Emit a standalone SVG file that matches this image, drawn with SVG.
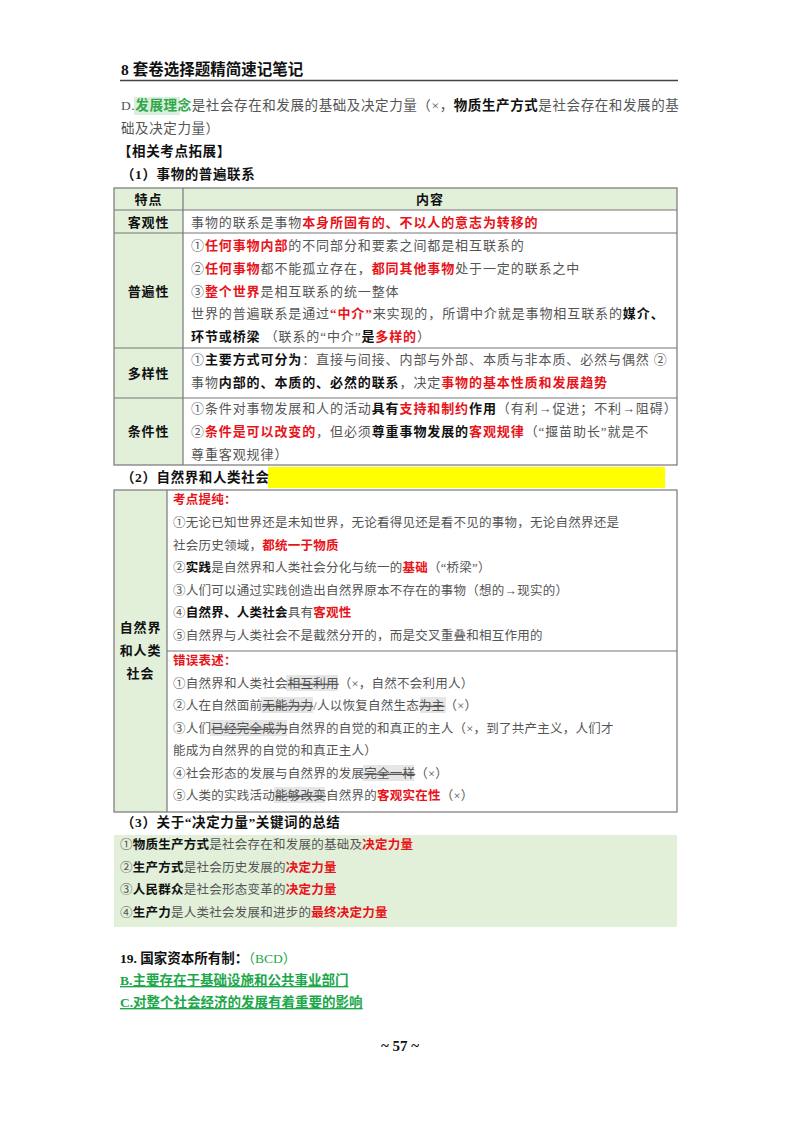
<svg xmlns="http://www.w3.org/2000/svg" width="800" height="1132" viewBox="0 0 800 1132">
<style>
text{font-family:"Liberation Serif","Noto Sans CJK SC",serif;fill:#555;}
.h{font-size:15px;font-weight:bold;fill:#111;}
.p{font-size:13.5px;letter-spacing:0.6px;}
.t1{font-size:13px;letter-spacing:0.9px;}
.t2{font-size:12.5px;letter-spacing:0.25px;}
.b{font-weight:bold;fill:#111;}
.r{font-weight:bold;fill:#e8141a;}
.s{text-decoration:line-through;}
.g{fill:#1aa84a;font-weight:bold;}
.grid{fill:none;stroke:#777;stroke-width:1.2;}
.hl{fill:#e6e6e6;}
</style>
<rect width="800" height="1132" fill="#fff"/>
<g id="header">
<text x="121" y="75" class="h" style="font-size:15.5px">8 套卷选择题精简速记笔记</text>
<line x1="120" y1="80.5" x2="678" y2="80.5" stroke="#444" stroke-width="1.5"/>
</g>
<g id="intro">
<rect x="134" y="97" width="46" height="18" fill="#d9efdd"/>
<text x="121" y="110" class="p">D.<tspan fill="#2fa84a" font-weight="bold">发展理念</tspan>是社会存在和发展的基础及决定力量（×，<tspan class="b">物质生产方式</tspan>是社会存在和发展的基</text>
<text x="121" y="133" class="p">础及决定力量）</text>
<text x="118" y="156" class="p b">【相关考点拓展】</text>
<text x="121" y="179" class="p b">（1）事物的普遍联系</text>
</g>
<g id="table1">
<rect x="114" y="188" width="69" height="277" fill="#e2efd9"/>
<rect x="183" y="188" width="494" height="22" fill="#e2efd9"/>
<rect x="114" y="188" width="563" height="277" class="grid"/>
<line x1="183" y1="188" x2="183" y2="465" class="grid"/>
<line x1="114" y1="210" x2="677" y2="210" class="grid"/>
<line x1="114" y1="233" x2="677" y2="233" class="grid"/>
<line x1="114" y1="348" x2="677" y2="348" class="grid"/>
<line x1="114" y1="398" x2="677" y2="398" class="grid"/>
<text x="148.5" y="204" class="t1 b" text-anchor="middle">特点</text>
<text x="430" y="204" class="t1 b" text-anchor="middle">内容</text>
<text x="148.5" y="227" class="t1 b" text-anchor="middle">客观性</text>
<text x="191" y="227" class="t1">事物的联系是事物<tspan class="r">本身所固有的、不以人的意志为转移的</tspan></text>
<text x="148.5" y="296" class="t1 b" text-anchor="middle">普遍性</text>
<text x="191" y="250" class="t1">①<tspan class="r">任何事物内部</tspan>的不同部分和要素之间都是相互联系的</text>
<text x="191" y="273" class="t1">②<tspan class="r">任何事物</tspan>都不能孤立存在，<tspan class="r">都同其他事物</tspan>处于一定的联系之中</text>
<text x="191" y="296" class="t1">③<tspan class="r">整个世界</tspan>是相互联系的统一整体</text>
<text x="191" y="318" class="t1">世界的普遍联系是通过<tspan class="r">“中介”</tspan>来实现的，所谓中介就是事物相互联系的<tspan class="b">媒介、</tspan></text>
<text x="191" y="341" class="t1"><tspan class="b">环节或桥梁</tspan> （联系的“中介”<tspan class="b">是</tspan><tspan class="r">多样的</tspan>）</text>
<text x="148.5" y="378" class="t1 b" text-anchor="middle">多样性</text>
<text x="191" y="364" class="t1">①<tspan class="b">主要方式可分为</tspan>：直接与间接、内部与外部、本质与非本质、必然与偶然 ②</text>
<text x="191" y="387" class="t1">事物<tspan class="b">内部的、本质的、必然的联系</tspan>，决定<tspan class="r">事物的基本性质和发展趋势</tspan></text>
<text x="148.5" y="436" class="t1 b" text-anchor="middle">条件性</text>
<text x="191" y="413" class="t1">①条件对事物发展和人的活动<tspan class="b">具有</tspan><tspan class="r">支持和制约</tspan><tspan class="b">作用</tspan>（有利→促进；不利→阻碍）</text>
<text x="191" y="436" class="t1">②<tspan class="r">条件是可以改变的</tspan>，但必须<tspan class="b">尊重事物发展的</tspan><tspan class="r">客观规律</tspan>（“揠苗助长”就是不</text>
<text x="191" y="459" class="t1">尊重客观规律）</text>
</g>
<g id="section2">
<rect x="268" y="467" width="397" height="21" fill="#ffff00"/>
<text x="121" y="482" class="p b">（2）自然界和人类社会</text>
</g>
<g id="table2">
<rect x="114" y="490" width="53" height="322" fill="#e2efd9"/>
<rect x="114" y="490" width="563" height="322" class="grid"/>
<line x1="167" y1="490" x2="167" y2="812" class="grid"/>
<line x1="167" y1="651" x2="677" y2="651" class="grid"/>
<text x="140.5" y="632" class="t1 b" text-anchor="middle">自然界</text>
<text x="140.5" y="655" class="t1 b" text-anchor="middle">和人类</text>
<text x="140.5" y="678" class="t1 b" text-anchor="middle">社会</text>
<text x="173" y="504" class="t2 r">考点提纯：</text>
<text x="173" y="527" class="t2">①无论已知世界还是未知世界，无论看得见还是看不见的事物，无论自然界还是</text>
<text x="173" y="550" class="t2">社会历史领域，<tspan class="r">都统一于物质</tspan></text>
<text x="173" y="572" class="t2">②<tspan class="b">实践</tspan>是自然界和人类社会分化与统一的<tspan class="r">基础</tspan>（“桥梁”）</text>
<text x="173" y="595" class="t2">③人们可以通过实践创造出自然界原本不存在的事物（想的→现实的）</text>
<text x="173" y="617" class="t2">④<tspan class="b">自然界、人类社会</tspan>具有<tspan class="r">客观性</tspan></text>
<text x="173" y="640" class="t2">⑤自然界与人类社会不是截然分开的，而是交叉重叠和相互作用的</text>
<rect x="286" y="675" width="52" height="16" class="hl"/>
<rect x="261" y="697" width="52" height="16" class="hl"/>
<rect x="420" y="697" width="26" height="16" class="hl"/>
<rect x="210" y="720" width="77" height="16" class="hl"/>
<rect x="363" y="765" width="51" height="16" class="hl"/>
<rect x="274" y="787" width="51" height="16" class="hl"/>
<text x="173" y="665" class="t2 r">错误表述：</text>
<text x="173" y="688" class="t2">①自然界和人类社会<tspan class="s">相互利用</tspan>（×，自然不会利用人）</text>
<text x="173" y="710" class="t2">②人在自然面前<tspan class="s">无能为力</tspan>/人以恢复自然生态<tspan class="s">为主</tspan>（×）</text>
<text x="173" y="733" class="t2">③人们<tspan class="s">已经完全成为</tspan>自然界的自觉的和真正的主人（×，到了共产主义，人们才</text>
<text x="173" y="755" class="t2">能成为自然界的自觉的和真正主人）</text>
<text x="173" y="778" class="t2">④社会形态的发展与自然界的发展<tspan class="s">完全一样</tspan>（×）</text>
<text x="173" y="800" class="t2">⑤人类的实践活动<tspan class="s">能够改变</tspan>自然界的<tspan class="r">客观实在性</tspan>（×）</text>
</g>
<g id="section3">
<text x="121" y="827" class="p b">（3）关于“决定力量”关键词的总结</text>
<rect x="114" y="835" width="563" height="92" fill="#e2efd9"/>
<text x="120" y="849" class="t2">①<tspan class="b">物质生产方式</tspan>是社会存在和发展的基础及<tspan class="r">决定力量</tspan></text>
<text x="120" y="872" class="t2">②<tspan class="b">生产方式</tspan>是社会历史发展的<tspan class="r">决定力量</tspan></text>
<text x="120" y="894" class="t2">③<tspan class="b">人民群众</tspan>是社会形态变革的<tspan class="r">决定力量</tspan></text>
<text x="120" y="917" class="t2">④<tspan class="b">生产力</tspan>是人类社会发展和进步的<tspan class="r">最终决定力量</tspan></text>
</g>
<g id="q19">
<text x="120" y="963" class="p b" style="letter-spacing:0">19. 国家资本所有制：<tspan fill="#1aa84a" font-weight="normal">（BCD）</tspan></text>
<text x="120" y="985" class="p g" style="letter-spacing:0;text-decoration:underline">B.主要存在于基础设施和公共事业部门</text>
<text x="120" y="1007" class="p g" style="letter-spacing:0;text-decoration:underline">C.对整个社会经济的发展有着重要的影响</text>
<text x="400" y="1051" class="h" text-anchor="middle" style="font-size:15px">~ 57 ~</text>
</g>
</svg>
